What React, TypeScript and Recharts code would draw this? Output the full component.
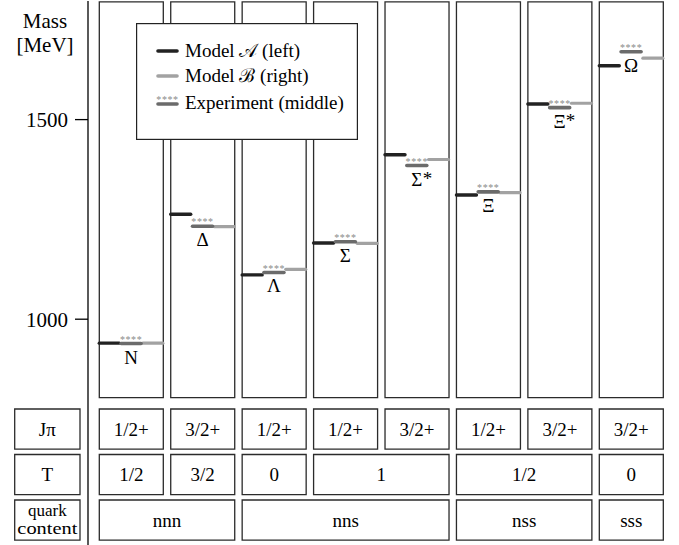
import { ScatterChart, Scatter, XAxis, YAxis, ReferenceArea, ReferenceLine, Legend } from 'recharts';

const SERIF = '"Liberation Serif", "Times New Roman", Times, serif';

// ground-state baryons, one column each
const particles = ['N', 'Δ', 'Λ', 'Σ', 'Σ*', 'Ξ', 'Ξ*', 'Ω'];
const modelA = [940, 1263, 1111, 1191, 1412, 1311, 1539, 1635];
const experiment = [939, 1233, 1117, 1194, 1385, 1319, 1530, 1670];
const modelB = [940, 1232, 1125, 1190, 1400, 1317, 1541, 1654];

const massTicks = [1000, 1500];

// table under the plot
const spinParity = ['1/2+', '3/2+', '1/2+', '1/2+', '3/2+', '1/2+', '3/2+', '3/2+'];
const isospin = [
  { label: '1/2', from: 0, to: 0 },
  { label: '3/2', from: 1, to: 1 },
  { label: '0', from: 2, to: 2 },
  { label: '1', from: 3, to: 4 },
  { label: '1/2', from: 5, to: 6 },
  { label: '0', from: 7, to: 7 },
];
const quarkContent = [
  { label: 'nnn', from: 0, to: 1 },
  { label: 'nns', from: 2, to: 4 },
  { label: 'nss', from: 5, to: 6 },
  { label: 'sss', from: 7, to: 7 },
];

const legendItems = [
  { name: 'Model 𝒜 (left)', color: '#222222' },
  { name: 'Model ℬ (right)', color: '#a2a2a2' },
  { name: 'Experiment (middle)', color: '#6b6b6b', stars: true },
];

// layout: one column = 1 unit on the x axis
const PX0 = 99.3;
const UNIT = 71.43;
const toUnit = (px: number) => (px - PX0) / UNIT;
const COL_W = 0.896;
const AXIS_X = toUnit(88);
const X_MAX = toUnit(679);
const TABLE_X_MIN = toUnit(0);
const MASS_DOMAIN: [number, number] = [797.6, 1797.1];
const BOX_BOTTOM = 803.4;
const BOX_TOP = 1795;

const OFF_A = 0.14;
const OFF_EXP = 0.445;
const OFF_B = 0.75;
const HALF = 10;

const dataA = modelA.map((m, i) => ({ x: i + OFF_A, mass: m }));
const dataB = modelB.map((m, i) => ({ x: i + OFF_B, mass: m }));
const dataExp = experiment.map((m, i) => ({ x: i + OFF_EXP, mass: m, name: particles[i] }));

const segment = (color: string, width: number) => (props: any) => {
  const { cx, cy } = props;
  if (cx == null || cy == null) return <g />;
  return (
    <line x1={cx - HALF} x2={cx + HALF} y1={cy} y2={cy} stroke={color} strokeWidth={width} strokeLinecap="round" />
  );
};

const ExpShape = (props: any) => {
  const { cx, cy, payload } = props;
  if (cx == null || cy == null) return <g />;
  const name: string = payload.name;
  const base = name.replace('*', '');
  const star = name.endsWith('*');
  return (
    <g>
      <text x={cx} y={cy - 0.7} textAnchor="middle" fontFamily={SERIF} fontSize={10} fill="#8a8a8a" letterSpacing={0.6}>
        ****
      </text>
      <line x1={cx - HALF} x2={cx + HALF} y1={cy} y2={cy} stroke="#6b6b6b" strokeWidth={3.6} strokeLinecap="round" />
      <text x={cx} y={cy + 20} textAnchor="middle" fontFamily={SERIF} fontSize={19} fill="#000">
        {base}
      </text>
      {star && (
        <text x={cx + 6} y={cy + 19} fontFamily={SERIF} fontSize={19} fill="#000">
          *
        </text>
      )}
    </g>
  );
};

const renderLegend = () => (
  <svg width={222} height={117} style={{ display: 'block' }}>
    <rect x={0.6} y={0.6} width={220.8} height={115.8} fill="#fff" stroke="#222" strokeWidth={1.2} />
    {legendItems.map((item, i) => {
      const ly = [28, 53, 81][i];
      const ty = [34, 59, 86][i];
      return (
        <g key={item.name}>
          {item.stars && (
            <text x={31.5} y={ly - 1} textAnchor="middle" fontFamily={SERIF} fontSize={10} fill="#8a8a8a" letterSpacing={0.6}>
              ****
            </text>
          )}
          <line x1={22} x2={41} y1={ly} y2={ly} stroke={item.color} strokeWidth={3.6} strokeLinecap="round" />
          <text x={49} y={ty} fontFamily={SERIF} fontSize={19} fill="#000">
            {item.name}
          </text>
        </g>
      );
    })}
  </svg>
);

const cellLabel = (value: string) => ({
  value,
  position: 'center' as const,
  fill: '#000',
  fontSize: 19,
  fontFamily: SERIF,
});

const QuarkTitle = (props: any) => {
  const vb = props.viewBox;
  const cx = vb.x + vb.width / 2;
  return (
    <g fontFamily={SERIF} fontSize={17} fill="#000">
      <text x={cx} y={vb.y + 16} textAnchor="middle">quark</text>
      <text x={cx} y={vb.y + 34} textAnchor="middle" textLength={60} lengthAdjust="spacingAndGlyphs">
        content
      </text>
    </g>
  );
};

export default function App() {
  const rowBox = (r: number) => ({ y1: r, y2: r + 0.88 });
  return (
    <div style={{ position: 'absolute', left: 0, top: 0, width: 679, height: 545, background: '#fff' }}>
      <div style={{ position: 'absolute', left: 0, top: 9, width: 90, textAlign: 'center', fontFamily: SERIF, fontSize: 21, lineHeight: '24px', color: '#000' }}>
        <div>Mass</div>
        <div>[MeV]</div>
      </div>
      <div style={{ position: 'absolute', left: 0, top: 0 }}>
        <ScatterChart width={679} height={400} margin={{ top: 1, right: 0, bottom: 0, left: 0 }}>
          <XAxis type="number" dataKey="x" domain={[AXIS_X, X_MAX]} hide allowDataOverflow />
          <YAxis
            type="number"
            dataKey="mass"
            domain={MASS_DOMAIN}
            ticks={massTicks}
            interval={0}
            width={88}
            tickSize={13}
            tickMargin={7}
            allowDataOverflow
            axisLine={{ stroke: '#000', strokeWidth: 1.3 }}
            tickLine={{ stroke: '#000', strokeWidth: 1.3 }}
            tick={{ fill: '#000', fontSize: 21, fontFamily: SERIF }}
          />
          {particles.map((p, i) => (
            <ReferenceArea
              key={p}
              x1={i}
              x2={i + COL_W}
              y1={BOX_BOTTOM}
              y2={BOX_TOP}
              fill="#fff"
              fillOpacity={1}
              stroke="#2b2b2b"
              strokeWidth={1.3}
              ifOverflow="visible"
            />
          ))}
          <Legend
            layout="horizontal"
            verticalAlign="middle"
            align="center"
            content={renderLegend}
            wrapperStyle={{ left: 136, top: 23, width: 222, height: 117, bottom: 'auto' }}
          />
          <Scatter name="Model A (left)" data={dataA} shape={segment('#222222', 3.4)} isAnimationActive={false} legendType="none" />
          <Scatter name="Model B (right)" data={dataB} shape={segment('#a2a2a2', 3.2)} isAnimationActive={false} legendType="none" />
          <Scatter name="Experiment (middle)" data={dataExp} shape={ExpShape} isAnimationActive={false} legendType="none" />
        </ScatterChart>
      </div>
      <div style={{ position: 'absolute', left: 0, top: 400 }}>
        <ScatterChart width={679} height={145} margin={{ top: 0, right: 0, bottom: 0, left: 0 }}>
          <XAxis type="number" dataKey="x" domain={[TABLE_X_MIN, X_MAX]} hide allowDataOverflow />
          <YAxis type="number" dataKey="y" domain={[-0.198, 2.989]} reversed hide allowDataOverflow />
          <ReferenceLine x={AXIS_X} stroke="#000" strokeWidth={1.3} />
          <ReferenceArea x1={toUnit(14.7)} x2={toUnit(80)} {...rowBox(0)} fill="#fff" fillOpacity={1} stroke="#2b2b2b" strokeWidth={1.3} label={cellLabel('Jπ')} />
          <ReferenceArea x1={toUnit(14.7)} x2={toUnit(80)} {...rowBox(1)} fill="#fff" fillOpacity={1} stroke="#2b2b2b" strokeWidth={1.3} label={cellLabel('T')} />
          <ReferenceArea x1={toUnit(14.7)} x2={toUnit(80)} {...rowBox(2)} fill="#fff" fillOpacity={1} stroke="#2b2b2b" strokeWidth={1.3} label={{ content: QuarkTitle }} />
          {spinParity.map((s, i) => (
            <ReferenceArea key={`jp-${i}`} x1={i} x2={i + COL_W} {...rowBox(0)} fill="#fff" fillOpacity={1} stroke="#2b2b2b" strokeWidth={1.3} label={cellLabel(s)} />
          ))}
          {isospin.map((g, i) => (
            <ReferenceArea key={`t-${i}`} x1={g.from} x2={g.to + COL_W} {...rowBox(1)} fill="#fff" fillOpacity={1} stroke="#2b2b2b" strokeWidth={1.3} label={cellLabel(g.label)} />
          ))}
          {quarkContent.map((g, i) => (
            <ReferenceArea key={`q-${i}`} x1={g.from} x2={g.to + COL_W} {...rowBox(2)} fill="#fff" fillOpacity={1} stroke="#2b2b2b" strokeWidth={1.3} label={cellLabel(g.label)} />
          ))}
        </ScatterChart>
      </div>
    </div>
  );
}
